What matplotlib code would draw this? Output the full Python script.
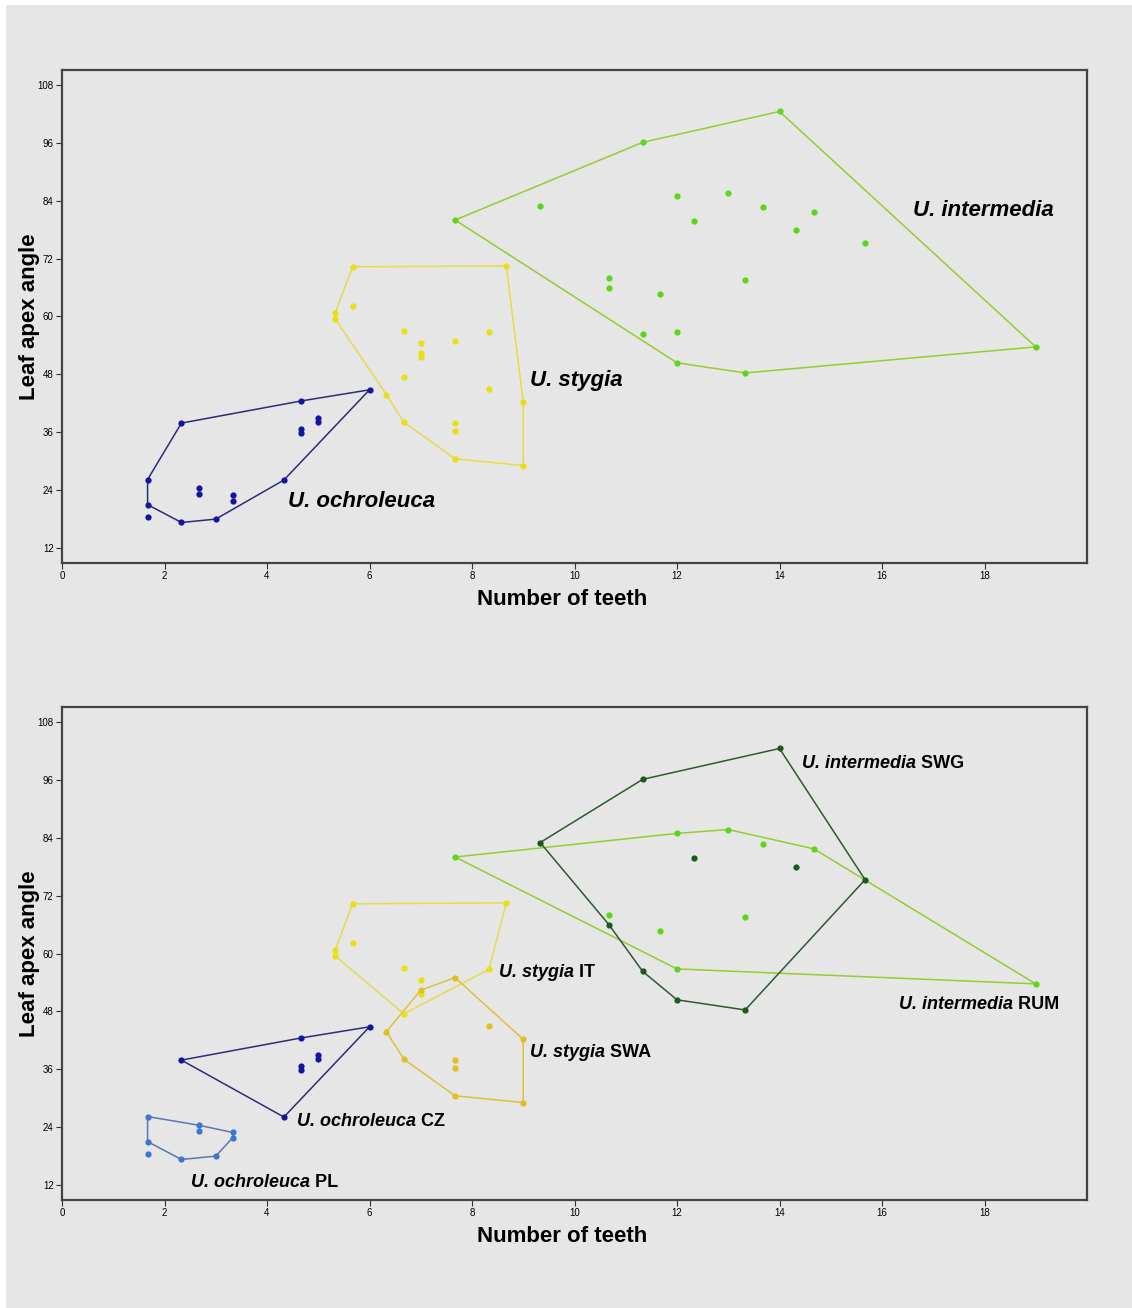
import matplotlib
matplotlib.use("Agg")
import matplotlib.pyplot as plt
from matplotlib.patches import Rectangle
import numpy as np

# --- data (mean teeth number vs leaf apex angle), per population ---
# hull_* lists give the polygon order (indices into the group's points)
ochro_cz_x = [2.33, 4.67, 6.00, 4.33, 4.67, 4.67, 5.00, 5.00]
ochro_cz_y = [37.9, 42.5, 44.8, 26.1, 36.7, 35.8, 39.0, 38.1]
hull_cz = [0, 1, 2, 3]

ochro_pl_x = [1.67, 2.67, 3.33, 3.33, 3.00, 2.33, 1.67, 2.67, 1.67]
ochro_pl_y = [26.2, 24.4, 22.9, 21.8, 18.0, 17.3, 21.0, 23.3, 18.5]
hull_pl = [0, 1, 2, 3, 4, 5, 6]

stygia_it_x = [5.67, 8.67, 8.33, 6.67, 5.33, 5.33, 5.67, 6.67, 7.00, 7.00]
stygia_it_y = [70.3, 70.5, 56.7, 47.5, 59.5, 60.7, 62.1, 56.9, 54.6, 51.7]
hull_it = [0, 1, 2, 3, 4, 5]

stygia_swa_x = [7.67, 9.00, 9.00, 7.67, 6.67, 6.33, 7.00, 8.33, 7.67, 7.67]
stygia_swa_y = [55.0, 42.2, 29.1, 30.5, 38.1, 43.8, 52.4, 45.0, 37.9, 36.2]
hull_swa = [0, 1, 2, 3, 4, 5, 6]

inter_swg_x = [9.33, 11.33, 14.00, 15.67, 13.33, 12.00, 11.33, 10.67, 12.33, 14.33]
inter_swg_y = [83.0, 96.1, 102.5, 75.3, 48.3, 50.4, 56.3, 66.0, 79.9, 77.9]
hull_swg = [0, 1, 2, 3, 4, 5, 6, 7]

inter_rum_x = [7.67, 12.00, 13.00, 14.67, 19.00, 12.00, 13.67, 10.67, 11.67, 13.33]
inter_rum_y = [80.0, 84.9, 85.7, 81.7, 53.7, 56.8, 82.6, 68.0, 64.6, 67.6]
hull_rum = [0, 1, 2, 3, 4, 5]

# species-level hulls (indices into the concatenated populations, cz+pl etc.)
hull_ochro = [8, 0, 1, 2, 3, 12, 13, 14]
hull_stygia = [0, 1, 11, 12, 13, 14, 15, 4, 5]
hull_inter = [10, 1, 2, 14, 4, 5]

x_ticks = [0, 2, 4, 6, 8, 10, 12, 14, 16, 18]
y_ticks = [12, 24, 36, 48, 60, 72, 84, 96, 108]

c_navy, c_navy_line = "#1414a0", "#2c2c78"
c_pl, c_pl_line = "#3a78d0", "#5a78a8"
c_yel, c_yel_line = "#e8e010", "#e4dc48"
c_gold, c_gold_line = "#e0c020", "#dcc23c"
c_lgreen, c_lgreen_line = "#5ad818", "#96cc30"
c_dgreen, c_dgreen_line = "#1a5a1a", "#2e5a2e"

BG = "#e6e6e6"
LABEL_FONT = ["Liberation Sans", "DejaVu Sans"]
TICK_FONT = ["Liberation Sans Narrow", "Liberation Sans", "DejaVu Sans"]


def draw_group(ax, xs, ys, hull, dot, line):
    xs, ys = np.asarray(xs), np.asarray(ys)
    idx = list(hull) + [hull[0]]
    ax.plot(xs[idx], ys[idx], color=line, lw=1.1, zorder=2)
    ax.plot(xs, ys, "o", color=dot, ms=4.5, mec="none", zorder=3)


def label(ax, x, y, species, suffix="", size=16):
    t = ax.text(x, y, species, fontsize=size, fontweight="bold", style="italic",
                family=LABEL_FONT, va="center", ha="left", zorder=4)
    if suffix:
        ax.annotate(" " + suffix, xy=(1, 0), xycoords=t, va="bottom", ha="left",
                    fontsize=size, fontweight="bold", family=LABEL_FONT, zorder=4)


def style_axes(ax):
    ax.set_facecolor(BG)
    ax.set_xlim(0, 20)
    ax.set_ylim(8.9, 111.1)
    ax.set_xticks(x_ticks)
    ax.set_yticks(y_ticks)
    ax.tick_params(length=4, width=0.8, color="#333333", labelsize=7, pad=2)
    for lab in ax.get_xticklabels() + ax.get_yticklabels():
        lab.set_family(TICK_FONT)
    for sp in ax.spines.values():
        sp.set_color("#444444")
        sp.set_linewidth(1.6)
    ax.set_xlabel("Number of teeth", fontsize=16, fontweight="bold", family=LABEL_FONT)
    ax.set_ylabel("Leaf apex angle", fontsize=16, fontweight="bold", family=LABEL_FONT)
    ax.xaxis.set_label_coords(0.488, -0.052)
    ax.yaxis.set_label_coords(-0.021, 0.5)


fig = plt.figure(figsize=(11.32, 13.08), dpi=100, facecolor="white")
fig.patches.append(Rectangle((6 / 1132, 0), 1, 1 - 5 / 1308, transform=fig.transFigure,
                             facecolor=BG, edgecolor="none", zorder=-10))

ax1 = fig.add_axes([62 / 1132, 1 - 563 / 1308, 1025 / 1132, 493 / 1308])
ax2 = fig.add_axes([62 / 1132, 1 - 1200 / 1308, 1025 / 1132, 493 / 1308])

# top panel: species
draw_group(ax1, ochro_cz_x + ochro_pl_x, ochro_cz_y + ochro_pl_y, hull_ochro, c_navy, c_navy_line)
draw_group(ax1, stygia_it_x + stygia_swa_x, stygia_it_y + stygia_swa_y, hull_stygia, c_yel, c_yel_line)
draw_group(ax1, inter_swg_x + inter_rum_x, inter_swg_y + inter_rum_y, hull_inter, c_lgreen, c_lgreen_line)
label(ax1, 4.41, 21.7, "U. ochroleuca")
label(ax1, 9.14, 46.8, "U. stygia")
label(ax1, 16.6, 81.9, "U. intermedia")
style_axes(ax1)

# bottom panel: populations
draw_group(ax2, ochro_pl_x, ochro_pl_y, hull_pl, c_pl, c_pl_line)
draw_group(ax2, ochro_cz_x, ochro_cz_y, hull_cz, c_navy, c_navy_line)
draw_group(ax2, stygia_it_x, stygia_it_y, hull_it, c_yel, c_yel_line)
draw_group(ax2, stygia_swa_x, stygia_swa_y, hull_swa, c_gold, c_gold_line)
draw_group(ax2, inter_rum_x, inter_rum_y, hull_rum, c_lgreen, c_lgreen_line)
draw_group(ax2, inter_swg_x, inter_swg_y, hull_swg, c_dgreen, c_dgreen_line)
label(ax2, 14.43, 99.3, "U. intermedia", "SWG", 13)
label(ax2, 16.33, 49.4, "U. intermedia", "RUM", 13)
label(ax2, 8.52, 56.1, "U. stygia", "IT", 13)
label(ax2, 9.14, 39.5, "U. stygia", "SWA", 13)
label(ax2, 4.59, 25.2, "U. ochroleuca", "CZ", 13)
label(ax2, 2.52, 12.6, "U. ochroleuca", "PL", 13)
style_axes(ax2)

fig.savefig("out.png", dpi=100, facecolor=fig.get_facecolor())
